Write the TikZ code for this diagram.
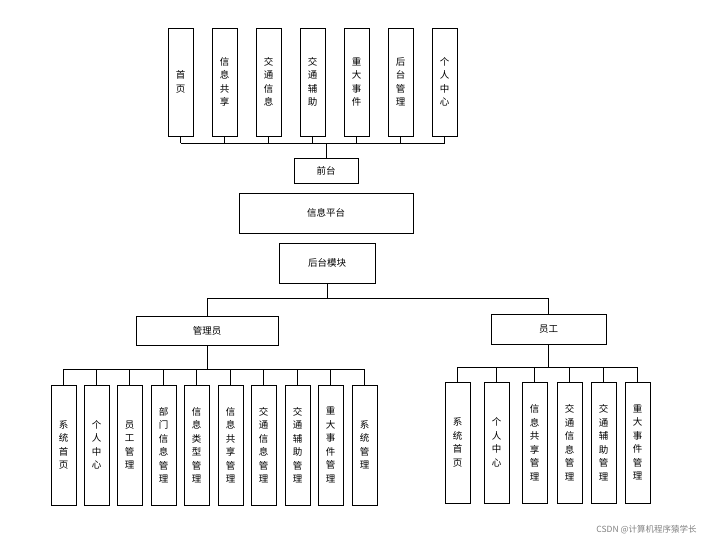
\documentclass[tikz,border=0pt]{standalone}
\usepackage{fontspec}
\newfontfamily\cjk{Noto Sans CJK SC}
\begin{document}
\begin{tikzpicture}[x=1pt,y=-1pt,line width=0.8pt,
  bx/.style={draw,fill=white,inner sep=0pt,font=\cjk\fontsize{9.5}{13.5}\selectfont,align=center},
  ln/.style={draw,line width=0.8pt}]
\useasboundingbox (0,0) rectangle (705,543);
\newcommand\vb[6]{\node[bx,minimum width=#3,minimum height=#4] (#1) at (#2) {#5};}
% top
\foreach \i/\x/\t in {1/180.5/首\\页,2/224.5/信\\息\\共\\享,3/268.5/交\\通\\信\\息,4/312.5/交\\通\\辅\\助,5/356.5/重\\大\\事\\件,6/400.5/后\\台\\管\\理,7/444.5/个\\人\\中\\心}
  {\node[bx,minimum width=25,minimum height=108] (t\i) at (\x,82) {\t};}
\coordinate (tb) at (0,143);
\foreach \i in {1,...,7} \draw (t\i.south) -- (t\i.south |- tb);
\draw (t1.south |- tb) -- (t7.south |- tb);
\node[bx,minimum width=64,minimum height=25] (qt) at (326,170.5) {前台};
\draw (qt.north) -- (qt.north |- tb);
\node[bx,minimum width=174,minimum height=40] (pt) at (326,213) {信息平台};
\node[bx,minimum width=96,minimum height=40] (ht) at (327,263) {后台模块};
\node[bx,minimum width=142,minimum height=29] (gl) at (207,330.5) {管理员};
\node[bx,minimum width=115,minimum height=30] (yg) at (548.5,329) {员工};
\coordinate (mb) at (0,298);
\draw (ht.south) -- (ht.south |- mb);
\draw (gl.north) -- (gl.north |- mb) -- (yg.north |- mb) -- (yg.north);
% admin children
\foreach \i/\x/\t in {1/63.5/系\\统\\首\\页,2/96.5/个\\人\\中\\心,3/129.5/员\\工\\管\\理,4/163.5/部\\门\\信\\息\\管\\理,5/196.5/信\\息\\类\\型\\管\\理,6/230.5/信\\息\\共\\享\\管\\理,7/263.5/交\\通\\信\\息\\管\\理,8/297.5/交\\通\\辅\\助\\管\\理,9/330.5/重\\大\\事\\件\\管\\理,10/364.5/系\\统\\管\\理}
  {\node[bx,minimum width=25,minimum height=120] (a\i) at (\x,445) {\t};}
\coordinate (ab) at (0,369);
\foreach \i in {1,...,10} \draw (a\i.north) -- (a\i.north |- ab);
\draw (a1.north |- ab) -- (a10.north |- ab);
\draw (gl.south) -- (gl.south |- ab);
% employee children
\foreach \i/\x/\t in {1/457.5/系\\统\\首\\页,2/496.5/个\\人\\中\\心,3/534.5/信\\息\\共\\享\\管\\理,4/569.5/交\\通\\信\\息\\管\\理,5/603.5/交\\通\\辅\\助\\管\\理,6/637.5/重\\大\\事\\件\\管\\理}
  {\node[bx,minimum width=25,minimum height=121] (e\i) at (\x,442.5) {\t};}
\coordinate (eb) at (0,367);
\foreach \i in {1,...,6} \draw (e\i.north) -- (e\i.north |- eb);
\draw (e1.north |- eb) -- (e6.north |- eb);
\draw (yg.south) -- (yg.south |- eb);
\node[anchor=east,text=gray,font=\cjk\fontsize{8.5}{10}\selectfont,inner sep=0pt] (wm) at (697,530) {CSDN @计算机程序猿学长};
\end{tikzpicture}
\end{document}
